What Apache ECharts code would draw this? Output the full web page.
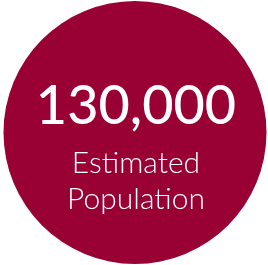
<!DOCTYPE html>
<html lang="en">
<head>
    <meta charset="UTF-8">
    <title>Estimated Population</title>
    <style>
        html, body { margin: 0; padding: 0; background: #ffffff; }
        #main { width: 268px; height: 265px; }
    </style>
    <script type="text/javascript" src="https://cdn.jsdelivr.net/npm/echarts@6/dist/echarts.min.js"></script>
</head>
<body>
<div id="main"></div>
<script>
    // 数据
    var categories = ['Estimated Population'];
    var values = [130000];
    var labelLines = ['Estimated', 'Population'];

    var chart = echarts.init(document.getElementById('main'));

    function fmt(n) {
        return String(n).replace(/\B(?=(\d{3})+(?!\d))/g, ',');
    }

    var option = {
        animation: false,
        series: [{
            type: 'pie',
            center: [135, 132.5],
            radius: [0, 131.5],
            silent: true,
            z: 1,
            label: { show: false },
            labelLine: { show: false },
            itemStyle: { color: '#990033' },
            data: categories.map(function (c, i) {
                return { name: c, value: values[i] };
            })
        }],
        graphic: [
            {
                type: 'text',
                z: 100,
                x: 136,
                y: 107,
                style: {
                    text: fmt(values[0]),
                    fill: '#ffffff',
                    font: '500 54px Lato',
                    align: 'center',
                    verticalAlign: 'middle'
                }
            },
            {
                type: 'text',
                z: 100,
                x: 136,
                y: 181,
                style: {
                    text: labelLines.join('\n'),
                    fill: '#ffffff',
                    font: '300 30px Lato',
                    lineHeight: 36,
                    align: 'center',
                    verticalAlign: 'middle'
                }
            }
        ]
    };
    chart.setOption(option);
</script>
</body>
</html>
